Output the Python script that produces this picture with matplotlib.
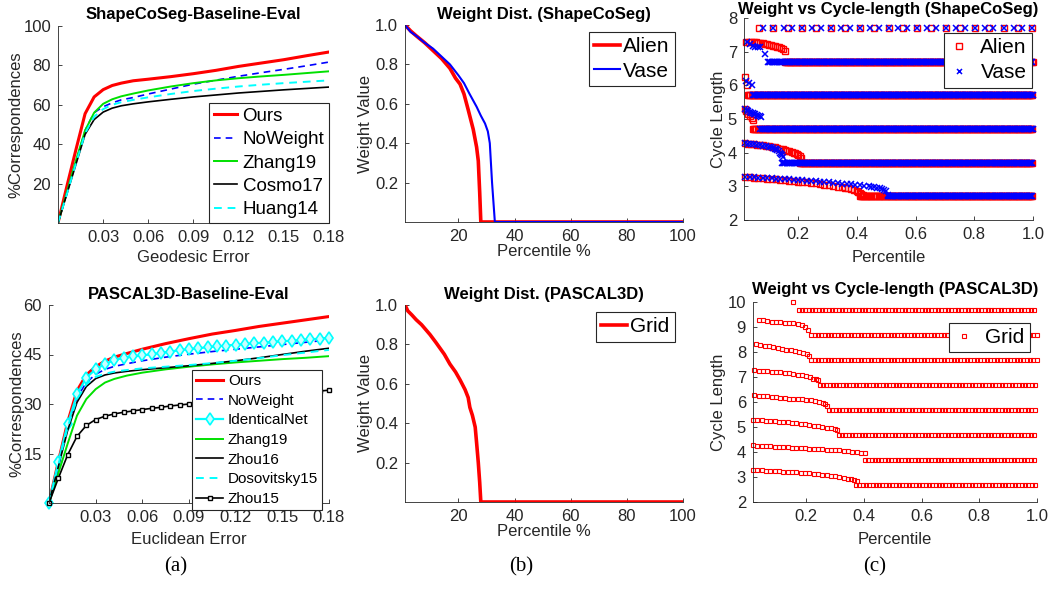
import numpy as np
import matplotlib.pyplot as plt

plt.rcParams['font.family'] = ['Liberation Sans', 'DejaVu Sans']
plt.rcParams['axes.linewidth'] = 0.6

W, H = 1050, 590
GREY = '#262626'

# ---- (a) top: ShapeCoSeg baseline ----
GEO_ERR = [0, 0.006, 0.012, 0.018, 0.024, 0.03, 0.036, 0.042, 0.05, 0.06,
           0.075, 0.09, 0.105, 0.12, 0.135, 0.15, 0.165, 0.18]
SHAPE_OURS = [0, 19, 37.5, 55.5, 64, 67.7, 69.8, 71, 72.2, 73, 74.3, 75.8,
              77.5, 79.5, 81.2, 82.9, 84.9, 86.8]
SHAPE_NOWEIGHT = [0, 15.5, 31, 47, 56, 59, 61, 62.5, 63.7, 65.5, 68, 70.5,
                  72.5, 74.5, 76.3, 78, 79.8, 81.7]
SHAPE_ZHANG19 = [0, 16, 32, 47, 56, 60.5, 62.8, 64.3, 65.7, 67.3, 69.3, 71,
                 72.4, 73.5, 74.4, 75.2, 76.1, 77]
SHAPE_COSMO17 = [0, 15, 30, 45, 52.5, 56.3, 58.3, 59.5, 60.5, 61.5, 62.8, 64,
                 65, 66, 66.8, 67.6, 68.3, 69]
SHAPE_HUANG14 = [0, 15, 30.5, 45.5, 54, 57.8, 60, 61.3, 62.5, 63.8, 65.5, 67,
                 68.2, 69.3, 70.2, 71, 71.7, 72.4]

# ---- (a) bottom: PASCAL3D baseline ----
EUC_ERR = GEO_ERR
PASCAL_OURS = [0, 12.5, 24.5, 34, 38.8, 41.3, 43, 44.2, 45.3, 46.6, 48.3,
               49.8, 51.2, 52.3, 53.5, 54.5, 55.5, 56.5]
PASCAL_NOWEIGHT = [0, 12, 23.5, 32, 36.5, 39, 40.5, 41.4, 42.2, 43.1, 44.2,
                   45.1, 45.9, 46.6, 47.3, 48.0, 48.7, 49.4]
PASCAL_ZHANG19 = [0, 9, 18, 26.5, 31.5, 34.5, 36.5, 37.6, 38.6, 39.5, 40.5,
                  41.3, 42.0, 42.6, 43.1, 43.6, 44.0, 44.5]
PASCAL_ZHOU16 = [0, 11, 22, 30.5, 35.3, 37.7, 38.8, 39.4, 39.9, 40.4, 41.0,
                 41.6, 42.3, 43.1, 44.0, 45.0, 46.0, 46.9]
PASCAL_DOSOV15 = [0, 11.5, 23, 31.5, 36, 38.2, 39.2, 39.8, 40.3, 40.8, 41.3,
                  41.8, 42.4, 43.1, 43.9, 44.8, 45.6, 46.4]
# marker series sampled every 0.006
EUC_ERR_FINE = [0, 0.006, 0.012, 0.018, 0.024, 0.03, 0.036, 0.042, 0.048,
                0.054, 0.06, 0.066, 0.072, 0.078, 0.084, 0.09, 0.096, 0.102,
                0.108, 0.114, 0.12, 0.126, 0.132, 0.138, 0.144, 0.15, 0.156,
                0.162, 0.168, 0.174, 0.18]
PASCAL_IDENTICAL = [0, 12.4, 23.9, 32.9, 38.0, 40.5, 42.1, 43.3, 44.0, 44.4,
                    44.7, 45.1, 45.5, 45.9, 46.3, 46.6, 46.9, 47.2, 47.5,
                    47.7, 48.0, 48.2, 48.4, 48.6, 48.8, 49.0, 49.2, 49.4,
                    49.6, 49.8, 50.1]
PASCAL_ZHOU15 = [0, 7.5, 14.6, 20.2, 23.5, 25.3, 26.3, 27.0, 27.5, 27.9, 28.3,
                 28.7, 29.0, 29.4, 29.7, 30.0, 30.3, 30.6, 30.9, 31.2, 31.5,
                 31.8, 32.0, 32.3, 32.6, 32.9, 33.2, 33.4, 33.7, 33.9, 34.2]

# ---- (b) weight distributions ----
ALIEN_PCT = [1, 3, 5, 8, 11, 14, 17, 19, 20.6, 22, 23.5, 25.3, 26.5, 27.1,
             27.6, 28, 100]
ALIEN_W = [1.0, 0.97, 0.945, 0.91, 0.87, 0.83, 0.78, 0.73, 0.70, 0.65, 0.57,
           0.47, 0.38, 0.31, 0.15, 0, 0]
VASE_PCT = [1, 3, 5, 8, 11, 14, 17, 20, 22, 24, 26.5, 28, 29.5, 30.5, 31.2,
            32, 33, 100]
VASE_W = [1.0, 0.965, 0.945, 0.91, 0.88, 0.84, 0.80, 0.745, 0.705, 0.65,
          0.585, 0.54, 0.5, 0.46, 0.40, 0.2, 0, 0]
GRID_PCT = [1, 2, 3.4, 5, 6.9, 9.9, 12, 13.5, 15, 17, 19, 20.6, 22.4, 23.5,
            24.1, 25, 26, 26.5, 27.1, 27.6, 28, 100]
GRID_W = [1.0, 0.97, 0.95, 0.925, 0.9, 0.85, 0.81, 0.78, 0.75, 0.7, 0.66,
          0.62, 0.57, 0.53, 0.48, 0.44, 0.38, 0.3, 0.2, 0.1, 0, 0]

# ---- (c) top: weight vs cycle length, ShapeCoSeg ----
CYCLE_LEVELS = [2.7, 3.7, 4.7, 5.7, 6.7]
ALIEN_ROW_START = [0.41, 0.205, 0.046, 0.03, 0.155]
VASE_ROW_START = [0.505, 0.145, 0.072, 0.047, 0.098]
ALIEN_TOP_X = [0.067, 0.115, 0.166, 0.213, 0.262, 0.311, 0.361, 0.410, 0.459,
               0.509, 0.557, 0.606, 0.654, 0.705, 0.753, 0.801, 0.850, 0.900,
               0.949, 0.998]
VASE_TOP_X = [0.082, 0.115, 0.151, 0.181, 0.213, 0.247, 0.277, 0.311, 0.346,
              0.376, 0.410, 0.444, 0.474, 0.509, 0.542, 0.572, 0.606, 0.639,
              0.669, 0.705, 0.738, 0.768, 0.801, 0.835, 0.865, 0.900, 0.934,
              0.964, 0.998]
TOP_LEVEL = 7.7
ALIEN_CURVE_X = [
    [0.02, 0.035, 0.05, 0.065, 0.08, 0.095, 0.11, 0.125, 0.14, 0.155, 0.17,
     0.185, 0.20, 0.215, 0.23, 0.245, 0.26, 0.275, 0.29, 0.305, 0.32, 0.335,
     0.35, 0.36, 0.37, 0.38, 0.39, 0.40, 0.405, 0.41, 0.415, 0.42],
    [0.02, 0.03, 0.04, 0.05, 0.06, 0.07, 0.08, 0.09, 0.10, 0.11, 0.12, 0.13,
     0.14, 0.148, 0.155, 0.163, 0.17, 0.178, 0.185, 0.19, 0.195, 0.2, 0.205,
     0.211],
    [0.018, 0.024, 0.030, 0.036, 0.042, 0.048],
    [0.021, 0.026],
    [0.024, 0.033, 0.041, 0.05, 0.058, 0.065, 0.071, 0.079, 0.086, 0.094,
     0.101, 0.108, 0.114, 0.121, 0.128, 0.136, 0.143, 0.149, 0.154],
]
ALIEN_CURVE_Y = [
    [3.28, 3.27, 3.26, 3.25, 3.24, 3.23, 3.22, 3.21, 3.2, 3.18, 3.17, 3.16,
     3.14, 3.13, 3.12, 3.11, 3.09, 3.07, 3.05, 3.03, 3.01, 2.99, 2.97, 2.95,
     2.94, 2.92, 2.9, 2.86, 2.83, 2.8, 2.76, 2.73],
    [4.28, 4.27, 4.26, 4.25, 4.24, 4.23, 4.22, 4.21, 4.19, 4.18, 4.16, 4.14,
     4.12, 4.10, 4.08, 4.06, 4.04, 4.02, 4.0, 3.98, 3.95, 3.92, 3.9, 3.85],
    [5.29, 5.24, 5.16, 5.10, 5.03, 4.97],
    [6.25, 6.01],
    [7.30, 7.30, 7.30, 7.29, 7.28, 7.27, 7.26, 7.25, 7.24, 7.22, 7.20, 7.19,
     7.18, 7.16, 7.15, 7.13, 7.11, 7.07, 7.03],
]
VASE_CURVE_X = [
    [0.02, 0.035, 0.05, 0.065, 0.08, 0.095, 0.11, 0.125, 0.14, 0.155, 0.17,
     0.185, 0.20, 0.215, 0.23, 0.245, 0.26, 0.275, 0.29, 0.305, 0.32, 0.335,
     0.35, 0.365, 0.38, 0.395, 0.41, 0.425, 0.44, 0.45, 0.46, 0.47, 0.48,
     0.487, 0.494, 0.5, 0.505],
    [0.02, 0.03, 0.04, 0.05, 0.06, 0.07, 0.08, 0.09, 0.10, 0.108, 0.115,
     0.12, 0.125, 0.13, 0.135, 0.139, 0.142, 0.145, 0.148],
    [0.020, 0.025, 0.030, 0.035, 0.040, 0.045, 0.050, 0.055, 0.060, 0.065,
     0.070, 0.075],
    [0.024, 0.033, 0.043],
    [0.025, 0.035, 0.045, 0.055, 0.063, 0.071, 0.086],
]
VASE_CURVE_Y = [
    [3.29, 3.28, 3.27, 3.26, 3.26, 3.25, 3.24, 3.23, 3.23, 3.22, 3.21, 3.20,
     3.19, 3.18, 3.17, 3.16, 3.15, 3.14, 3.13, 3.12, 3.11, 3.10, 3.08, 3.07,
     3.06, 3.05, 3.03, 3.02, 3.0, 2.99, 2.97, 2.96, 2.94, 2.92, 2.89, 2.85,
     2.75],
    [4.28, 4.27, 4.26, 4.25, 4.24, 4.23, 4.21, 4.20, 4.18, 4.16, 4.14, 4.12,
     4.10, 4.07, 4.04, 4.0, 3.97, 3.93, 3.88],
    [5.29, 5.27, 5.24, 5.22, 5.19, 5.17, 5.15, 5.14, 5.12, 5.10, 5.08, 5.05],
    [6.14, 6.07, 6.01],
    [7.30, 7.22, 7.18, 7.15, 7.14, 7.14, 6.94],
]

# ---- (c) bottom: weight vs cycle length, PASCAL3D ----
GRID_LEVELS = [2.7, 3.7, 4.7, 5.7, 6.7, 7.7, 8.7, 9.7]
GRID_ROW_START = [0.372, 0.403, 0.312, 0.279, 0.246, 0.217, 0.217, 0.174]
GRID_CURVE_X = [
    [0.014, 0.03, 0.045, 0.06, 0.075, 0.09, 0.105, 0.12, 0.135, 0.15, 0.165,
     0.18, 0.195, 0.21, 0.225, 0.24, 0.255, 0.27, 0.285, 0.3, 0.315, 0.33,
     0.345, 0.355, 0.365, 0.374],
    [0.014, 0.03, 0.045, 0.06, 0.075, 0.09, 0.105, 0.12, 0.135, 0.15, 0.165,
     0.18, 0.195, 0.21, 0.225, 0.24, 0.255, 0.27, 0.285, 0.3, 0.315, 0.33,
     0.345, 0.36, 0.375, 0.39, 0.403],
    [0.014, 0.03, 0.045, 0.06, 0.075, 0.09, 0.105, 0.12, 0.135, 0.15, 0.165,
     0.18, 0.195, 0.21, 0.225, 0.24, 0.255, 0.27, 0.285, 0.298, 0.306],
    [0.02, 0.035, 0.05, 0.065, 0.08, 0.095, 0.11, 0.125, 0.14, 0.155, 0.17,
     0.185, 0.2, 0.215, 0.23, 0.245, 0.258, 0.266, 0.272],
    [0.02, 0.035, 0.05, 0.065, 0.08, 0.095, 0.11, 0.125, 0.14, 0.155, 0.17,
     0.185, 0.2, 0.212, 0.223, 0.232, 0.24],
    [0.026, 0.041, 0.056, 0.071, 0.086, 0.101, 0.116, 0.131, 0.146, 0.161,
     0.176, 0.19, 0.202, 0.209],
    [0.035, 0.05, 0.065, 0.08, 0.095, 0.11, 0.125, 0.14, 0.155, 0.17, 0.185,
     0.196, 0.206],
    [0.155],
]
GRID_CURVE_Y = [
    [3.3, 3.28, 3.27, 3.26, 3.25, 3.24, 3.23, 3.22, 3.21, 3.2, 3.19, 3.17,
     3.16, 3.15, 3.13, 3.12, 3.1, 3.08, 3.05, 3.03, 3.0, 2.97, 2.94, 2.91,
     2.88, 2.84],
    [4.27, 4.26, 4.25, 4.24, 4.23, 4.22, 4.21, 4.2, 4.19, 4.18, 4.17, 4.16,
     4.15, 4.14, 4.13, 4.12, 4.11, 4.1, 4.09, 4.08, 4.07, 4.06, 4.04, 4.02,
     4.0, 3.98, 3.95],
    [5.3, 5.28, 5.27, 5.26, 5.25, 5.23, 5.22, 5.2, 5.19, 5.18, 5.16, 5.13,
     5.11, 5.09, 5.06, 5.03, 5.0, 4.98, 4.96, 4.93, 4.87],
    [6.27, 6.25, 6.24, 6.23, 6.22, 6.2, 6.18, 6.16, 6.14, 6.13, 6.12, 6.11,
     6.09, 6.08, 6.06, 6.02, 5.98, 5.92, 5.84],
    [7.27, 7.26, 7.24, 7.23, 7.21, 7.2, 7.19, 7.17, 7.15, 7.13, 7.1, 7.07,
     7.04, 6.99, 6.94, 6.91, 6.87],
    [8.33, 8.3, 8.26, 8.23, 8.2, 8.17, 8.13, 8.1, 8.07, 8.04, 8.0, 7.95, 7.93,
     7.85],
    [9.30, 9.28, 9.26, 9.21, 9.20, 9.19, 9.18, 9.17, 9.16, 9.14, 9.08, 9.0,
     8.87],
    [10.0],
]


def px_axes(fig, left, top, right, bottom):
    return fig.add_axes([left / W, 1 - bottom / H,
                         (right - left) / W, (bottom - top) / H])


def style(ax):
    ax.spines['top'].set_visible(False)
    ax.spines['right'].set_visible(False)
    for s in ('left', 'bottom'):
        ax.spines[s].set_color(GREY)
    ax.tick_params(direction='in', length=3, width=0.6, colors=GREY,
                   labelsize=12, pad=5)


def labels(ax, title, xlabel, ylabel, xl, yl, tpad):
    ax.set_title(title, fontsize=12, fontweight='bold', pad=tpad)
    ax.set_xlabel(xlabel, fontsize=12, color=GREY)
    ax.set_ylabel(ylabel, fontsize=12, color=GREY)
    ax.xaxis.set_label_coords(0.5, xl)
    ax.yaxis.set_label_coords(yl, 0.5)


def legend(ax, loc, anchor, size, **kw):
    leg = ax.legend(loc=loc, bbox_to_anchor=anchor, borderaxespad=0,
                    fontsize=size, fancybox=False, framealpha=1,
                    edgecolor=GREY, borderpad=0.25, **kw)
    leg.get_frame().set_linewidth(0.8)
    return leg


def rows(starts, levels, step):
    xs, ys = [], []
    for x0, lv in zip(starts, levels):
        x = np.arange(x0, 1.0 + 1e-9, step)
        xs.extend(x)
        ys.extend([lv] * len(x))
    return xs, ys


def join(xs_list, ys_list):
    return ([v for xs in xs_list for v in xs],
            [v for ys in ys_list for v in ys])


fig = plt.figure(figsize=(W / 100, H / 100), dpi=100)

# (a) top
ax = px_axes(fig, 58, 26, 329, 223)
style(ax)
ax.plot(GEO_ERR, SHAPE_OURS, color='red', lw=2.2, label='Ours')
ax.plot(GEO_ERR, SHAPE_NOWEIGHT, color='blue', lw=1.2, ls=(0, (4, 3)),
        label='NoWeight')
ax.plot(GEO_ERR, SHAPE_ZHANG19, color='#00e000', lw=1.4, label='Zhang19')
ax.plot(GEO_ERR, SHAPE_COSMO17, color='black', lw=1.2, label='Cosmo17')
ax.plot(GEO_ERR, SHAPE_HUANG14, color='cyan', lw=1.4, ls=(0, (4, 3)),
        label='Huang14')
ax.set_xlim(0, 0.18)
ax.set_ylim(0, 100)
ax.set_xticks([0.03, 0.06, 0.09, 0.12, 0.15, 0.18])
ax.set_yticks([20, 40, 60, 80, 100])
labels(ax, 'ShapeCoSeg-Baseline-Eval', 'Geodesic Error', '%Correspondences',
       -0.137, -0.129, 5)
legend(ax, 'lower right', (1.0, 0.0), 13.5, handlelength=1.25,
       handletextpad=0.3, labelspacing=0.33)

# (a) bottom
ax = px_axes(fig, 49, 305, 329, 503)
style(ax)
ax.plot(EUC_ERR, PASCAL_OURS, color='red', lw=2.2, label='Ours')
ax.plot(EUC_ERR, PASCAL_NOWEIGHT, color='blue', lw=1.2, ls=(0, (4, 3)),
        label='NoWeight')
ax.plot(EUC_ERR_FINE, PASCAL_IDENTICAL, color='cyan', lw=1.6, marker='d',
        ms=6, mfc='#c8ffff', mec='cyan', mew=1.2, label='IdenticalNet',
        clip_on=False)
ax.plot(EUC_ERR, PASCAL_ZHANG19, color='#00e000', lw=1.4, label='Zhang19')
ax.plot(EUC_ERR, PASCAL_ZHOU16, color='black', lw=1.2, label='Zhou16')
ax.plot(EUC_ERR, PASCAL_DOSOV15, color='cyan', lw=1.4, ls=(0, (4, 3)),
        label='Dosovitsky15')
ax.plot(EUC_ERR_FINE, PASCAL_ZHOU15, color='black', lw=1.2, marker='s',
        ms=3.5, mfc='white', mec='black', mew=1.0, label='Zhou15',
        clip_on=False)
ax.set_xlim(0, 0.18)
ax.set_ylim(0, 60)
ax.set_xticks([0.03, 0.06, 0.09, 0.12, 0.15, 0.18])
ax.set_yticks([15, 30, 45, 60])
labels(ax, 'PASCAL3D-Baseline-Eval', 'Euclidean Error', '%Correspondences',
       -0.146, -0.089, 4)
legend(ax, 'lower right', (0.975, -0.035), 11, handlelength=1.8,
       handletextpad=0.3, labelspacing=0.37)

# (b) top
ax = px_axes(fig, 405, 25, 683, 222)
style(ax)
ax.plot(ALIEN_PCT, ALIEN_W, color='red', lw=2.6, label='Alien')
ax.plot(VASE_PCT, VASE_W, color='blue', lw=1.5, label='Vase')
ax.set_xlim(1, 100)
ax.set_ylim(0, 1)
ax.set_xticks([20, 40, 60, 80, 100])
ax.set_yticks([0.2, 0.4, 0.6, 0.8, 1.0])
ax.set_yticklabels(['0.2', '0.4', '0.6', '0.8', '1.0'])
labels(ax, 'Weight Dist. (ShapeCoSeg)', 'Percentile %', 'Weight Value',
       -0.112, -0.115, 4)
legend(ax, 'upper right', (0.971, 0.964), 15, handlelength=1.25,
       handletextpad=0.15, labelspacing=0.25)

# (b) bottom
ax = px_axes(fig, 405, 305, 683, 502)
style(ax)
ax.plot(GRID_PCT, GRID_W, color='red', lw=2.6, label='Grid')
ax.set_xlim(1, 100)
ax.set_ylim(0, 1)
ax.set_xticks([20, 40, 60, 80, 100])
ax.set_yticks([0.2, 0.4, 0.6, 0.8, 1.0])
ax.set_yticklabels(['0.2', '0.4', '0.6', '0.8', '1.0'])
labels(ax, 'Weight Dist. (PASCAL3D)', 'Percentile %', 'Weight Value',
       -0.112, -0.115, 4)
legend(ax, 'upper right', (0.971, 0.964), 15, handlelength=1.25,
       handletextpad=0.15)

# (c) top
ax = px_axes(fig, 744, 18, 1033, 220)
style(ax)
ax_x, ax_y = rows(ALIEN_ROW_START, CYCLE_LEVELS, 0.004)
cx, cy = join(ALIEN_CURVE_X, ALIEN_CURVE_Y)
ax.plot(ax_x + cx + ALIEN_TOP_X,
        ax_y + cy + [TOP_LEVEL] * len(ALIEN_TOP_X),
        ls='none', marker='s', ms=4.2, mfc='none', mec='red', mew=1.0,
        clip_on=False, label='Alien')
vx, vy = rows(VASE_ROW_START, CYCLE_LEVELS, 0.004)
cx, cy = join(VASE_CURVE_X, VASE_CURVE_Y)
ax.plot(vx + cx + VASE_TOP_X,
        vy + cy + [TOP_LEVEL] * len(VASE_TOP_X),
        ls='none', marker='x', ms=4.0, mec='blue', mew=1.1,
        clip_on=False, label='Vase')
ax.set_xlim(0.016, 1.0)
ax.set_ylim(2, 8)
ax.set_xticks([0.2, 0.4, 0.6, 0.8, 1.0])
ax.set_xticklabels(['0.2', '0.4', '0.6', '0.8', '1.0'])
ax.set_yticks([2, 3, 4, 5, 6, 7, 8])
labels(ax, 'Weight vs Cycle-length (ShapeCoSeg)', 'Percentile',
       'Cycle Length', -0.149, -0.062, 3)
legend(ax, 'upper right', (0.997, 0.926), 15, handlelength=0.9,
       handletextpad=0.6, labelspacing=0.3, markerscale=0.9)

# (c) bottom
ax = px_axes(fig, 753, 302, 1037, 502)
style(ax)
gx, gy = rows(GRID_ROW_START, GRID_LEVELS, 0.0115)
cx, cy = join(GRID_CURVE_X, GRID_CURVE_Y)
ax.plot(gx + cx, gy + cy, ls='none', marker='s', ms=3.0, mfc='none',
        mec='red', mew=0.8, clip_on=False, label='Grid')
ax.set_xlim(0.015, 1.0)
ax.set_ylim(2, 10)
ax.set_xticks([0.2, 0.4, 0.6, 0.8, 1.0])
ax.set_xticklabels(['0.2', '0.4', '0.6', '0.8', '1.0'])
ax.set_yticks([2, 3, 4, 5, 6, 7, 8, 9, 10])
labels(ax, 'Weight vs Cycle-length (PASCAL3D)', 'Percentile',
       'Cycle Length', -0.15, -0.095, 6)
legend(ax, 'upper right', (0.975, 0.895), 15, handlelength=0.9,
       handletextpad=0.6, markerscale=1.2)

for x, tag in [(176, '(a)'), (521, '(b)'), (875, '(c)')]:
    fig.text(x / W, 1 - 567 / H, tag, fontsize=15, ha='center', va='center',
             family=['Liberation Serif', 'DejaVu Serif'])

fig.savefig('out.png', dpi=100)
